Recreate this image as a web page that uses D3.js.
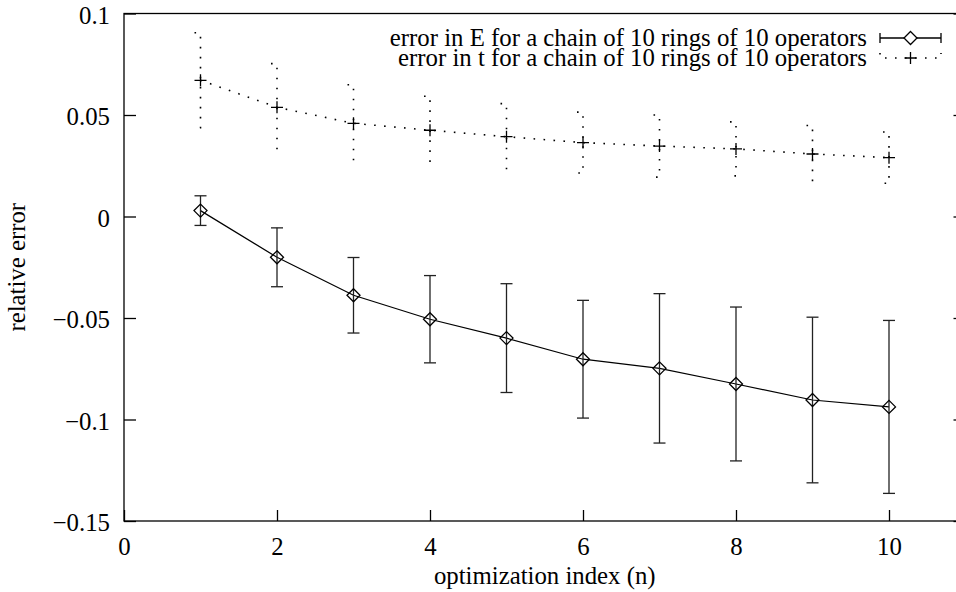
<!DOCTYPE html>
<html>
<head>
<meta charset="utf-8">
<script src="https://cdn.jsdelivr.net/npm/d3@7/dist/d3.min.js"></script>
<style>
  html, body { margin: 0; padding: 0; background: #fff; }
  svg { display: block; }
  text { font-family: "Liberation Serif", "Times New Roman", serif; fill: #000; }
</style>
</head>
<body>
<svg id="chart" width="956" height="592"></svg>
<script>
// optimization index n
const steps = [1, 2, 3, 4, 5, 6, 7, 8, 9, 10];

// relative error in E and its error bar half-width
const errE      = [0.0029, -0.0201, -0.0388, -0.0506, -0.0599, -0.0703, -0.0748, -0.0825, -0.0904, -0.0938];
const errEDelta = [0.0073,  0.0145,  0.0186,  0.0215,  0.0268,  0.0290,  0.0368,  0.0379,  0.0408,  0.0426];

// relative error in t and its error bar half-width
const errT      = [0.0671, 0.0538, 0.0459, 0.0425, 0.0393, 0.0364, 0.0347, 0.0333, 0.0308, 0.0290];
const errTDelta = [0.0234, 0.0215, 0.0190, 0.0167, 0.0163, 0.0150, 0.0153, 0.0133, 0.0140, 0.0126];

const xTicks = [0, 2, 4, 6, 8, 10];
const yTicks = [-0.15, -0.1, -0.05, 0, 0.05, 0.1];
const yTickLabels = ["\u22120.15", "\u22120.1", "\u22120.05", "0", "0.05", "0.1"];

const seriesNames = [
  "error in E for a chain of 10 rings of 10 operators",
  "error in t for a chain of 10 rings of 10 operators"
];

(function draw() {
  const svg = d3.select("#chart");
  const plotLeft = 124, plotTop = 13.5, plotBottom = 521, plotRight = 965.5;
  const fontSize = 24.8;

  const x = d3.scaleLinear().domain([0, 11]).range([plotLeft, plotRight]);
  const y = d3.scaleLinear().domain([-0.15, 0.1]).range([plotBottom, plotTop]);

  const ink = "#000";
  const dotted = "1.6,8.4";

  // frame
  svg.append("rect")
    .attr("x", plotLeft).attr("y", plotTop)
    .attr("width", plotRight - plotLeft).attr("height", plotBottom - plotTop)
    .attr("fill", "none").attr("stroke", ink).attr("stroke-width", 1.3);

  // axes with inward ticks
  const xAxis = d3.axisBottom(x).tickValues(xTicks).tickSize(-11).tickPadding(14)
    .tickFormat(d3.format("d"));
  const gx = svg.append("g").attr("transform", `translate(0,${plotBottom})`).call(xAxis);
  gx.select(".domain").remove();
  gx.selectAll(".tick line").attr("stroke", ink).attr("stroke-width", 1.3);
  gx.selectAll(".tick text").attr("font-size", fontSize).attr("font-family", "Liberation Serif")
    .attr("y", 0).attr("dy", 0).attr("transform", "translate(0,34)");

  const yAxis = d3.axisLeft(y).tickValues(yTicks).tickSize(-12).tickPadding(14)
    .tickFormat((d, i) => yTickLabels[i]);
  const gy = svg.append("g").attr("transform", `translate(${plotLeft},0)`).call(yAxis);
  gy.select(".domain").remove();
  gy.selectAll(".tick line").attr("stroke", ink).attr("stroke-width", 1.3);
  gy.selectAll(".tick text").attr("font-size", fontSize).attr("font-family", "Liberation Serif")
    .attr("dy", "0.4em");

  // mirrored ticks on the right edge
  const gyr = svg.append("g").attr("transform", `translate(${plotRight},0)`)
    .call(d3.axisRight(y).tickValues(yTicks).tickSize(-12).tickFormat(""));
  gyr.select(".domain").remove();
  gyr.selectAll(".tick line").attr("stroke", ink).attr("stroke-width", 1.3);

  // axis titles
  svg.append("text")
    .attr("x", (plotLeft + plotRight) / 2).attr("y", 584)
    .attr("text-anchor", "middle").attr("font-size", fontSize)
    .text("optimization index (n)");
  svg.append("text")
    .attr("transform", `translate(25,${(plotTop + plotBottom) / 2}) rotate(-90)`)
    .attr("text-anchor", "middle").attr("font-size", fontSize)
    .text("relative error");

  const dataE = steps.map((n, i) => ({ n, v: errE[i], d: errEDelta[i] }));
  const dataT = steps.map((n, i) => ({ n, v: errT[i], d: errTDelta[i] }));

  const line = d3.line().x(d => x(d.n)).y(d => y(d.v));
  const cap = 6;

  // series E: solid line, solid error bars, open diamonds
  const gE = svg.append("g");
  gE.append("path").datum(dataE).attr("d", line)
    .attr("fill", "none").attr("stroke", ink).attr("stroke-width", 1.2);
  const barsE = gE.selectAll("g.bar").data(dataE).join("g").attr("class", "bar");
  barsE.append("line")
    .attr("x1", d => x(d.n)).attr("x2", d => x(d.n))
    .attr("y1", d => y(d.v + d.d)).attr("y2", d => y(d.v - d.d));
  barsE.append("line")
    .attr("x1", d => x(d.n) - cap).attr("x2", d => x(d.n) + cap)
    .attr("y1", d => y(d.v + d.d)).attr("y2", d => y(d.v + d.d));
  barsE.append("line")
    .attr("x1", d => x(d.n) - cap).attr("x2", d => x(d.n) + cap)
    .attr("y1", d => y(d.v - d.d)).attr("y2", d => y(d.v - d.d));
  barsE.selectAll("line").attr("stroke", "#222").attr("stroke-width", 1.3);

  const diamond = (cx, cy, r) => `M${cx},${cy - r}L${cx + r},${cy}L${cx},${cy + r}L${cx - r},${cy}Z`;
  gE.selectAll("path.pt").data(dataE).join("path").attr("class", "pt")
    .attr("d", d => diamond(x(d.n), y(d.v), 6.5))
    .attr("fill", "none").attr("stroke", ink).attr("stroke-width", 1.3);

  // series t: dotted line, dotted error bars, plus markers
  const gT = svg.append("g");
  gT.append("path").datum(dataT).attr("d", line)
    .attr("fill", "none").attr("stroke", ink).attr("stroke-width", 1.6)
    .attr("stroke-dasharray", dotted);
  const barsT = gT.selectAll("g.bar").data(dataT).join("g").attr("class", "bar");
  barsT.append("path")
    .attr("d", d => `M${x(d.n) - cap},${y(d.v + d.d)}H${x(d.n)}V${y(d.v - d.d)}H${x(d.n) - cap}`)
    .attr("fill", "none").attr("stroke", ink).attr("stroke-width", 1.6)
    .attr("stroke-dasharray", dotted);

  const plus = (cx, cy, r) => `M${cx - r},${cy}H${cx + r}M${cx},${cy - r}V${cy + r}`;
  gT.selectAll("path.pt").data(dataT).join("path").attr("class", "pt")
    .attr("d", d => plus(x(d.n), y(d.v), 6))
    .attr("stroke", ink).attr("stroke-width", 1.3);

  // key
  const keyTextX = 867, keyX1 = 880, keyX2 = 941, keyMid = (keyX1 + keyX2) / 2;
  const rowY = [38, 58];
  const key = svg.append("g");
  seriesNames.forEach((name, i) => {
    key.append("text")
      .attr("x", keyTextX).attr("y", rowY[i]).attr("dy", "0.32em")
      .attr("text-anchor", "end").attr("font-size", fontSize)
      .text(name);
  });
  // key sample for E
  key.append("path")
    .attr("d", `M${keyX1},${rowY[0] - 5}V${rowY[0] + 5}M${keyX1},${rowY[0]}H${keyMid - 6.5}` +
               `M${keyMid + 6.5},${rowY[0]}H${keyX2}M${keyX2},${rowY[0] - 5}V${rowY[0] + 5}`)
    .attr("fill", "none").attr("stroke", ink).attr("stroke-width", 1.3);
  key.append("path").attr("d", diamond(keyMid, rowY[0], 6.5))
    .attr("fill", "none").attr("stroke", ink).attr("stroke-width", 1.3);
  // key sample for t
  key.append("path")
    .attr("d", `M${keyX1},${rowY[1] - 5}V${rowY[1]}H${keyX2}V${rowY[1] - 5}`)
    .attr("fill", "none").attr("stroke", ink).attr("stroke-width", 1.6)
    .attr("stroke-dasharray", dotted);
  key.append("path").attr("d", plus(keyMid, rowY[1], 6))
    .attr("stroke", ink).attr("stroke-width", 1.3);
})();
</script>
</body>
</html>
